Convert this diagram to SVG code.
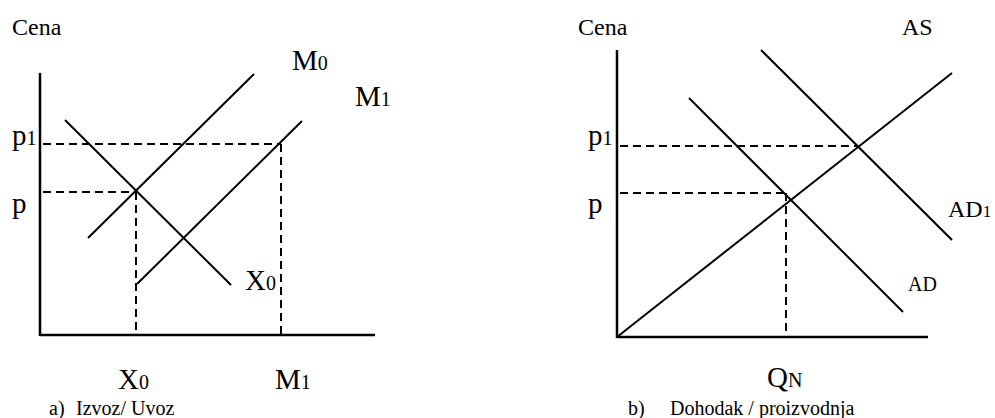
<svg xmlns="http://www.w3.org/2000/svg" width="995" height="418" viewBox="0 0 995 418">
<style>
text{font-family:"Liberation Serif","Times New Roman",serif;fill:#000}
.big{font-size:29px}
.sub{font-size:20px}
.mid{font-size:24px}
.msub{font-size:17px}
.cena{font-size:24px}
.cap{font-size:20px}
.ax{stroke:#000;stroke-width:2.5;fill:none}
.ln{stroke:#000;stroke-width:2;fill:none}
.ds{stroke:#000;stroke-width:2;fill:none;stroke-dasharray:8 5}
</style>
<rect width="995" height="418" fill="#fff"/>
<g id="chart-a">
  <g id="connectors-a">
    <line class="ax" x1="40" y1="73" x2="40" y2="336"/>
    <line class="ax" x1="40" y1="335" x2="375" y2="335"/>
    <line class="ln" x1="88" y1="238" x2="254" y2="74"/>
    <line class="ln" x1="137" y1="284" x2="302" y2="121"/>
    <line class="ln" x1="65" y1="120" x2="231" y2="285"/>
    <line class="ds" x1="43" y1="144" x2="281" y2="144"/>
    <line class="ds" x1="43" y1="192" x2="136" y2="192"/>
    <line class="ds" x1="136" y1="192" x2="136" y2="335"/>
    <line class="ds" x1="281" y1="144" x2="281" y2="335"/>
  </g>
  <g id="labels-a">
    <text class="cena" x="12" y="35">Cena</text>
    <text class="big" x="292" y="70">M<tspan class="sub">0</tspan></text>
    <text class="big" x="355" y="106">M<tspan class="sub">1</tspan></text>
    <text class="big" x="12" y="145">p<tspan class="sub">1</tspan></text>
    <text class="big" x="12" y="213">p</text>
    <text class="big" x="245" y="290">X<tspan class="sub">0</tspan></text>
    <text class="big" x="118" y="389">X<tspan class="sub">0</tspan></text>
    <text class="big" x="275" y="389">M<tspan class="sub">1</tspan></text>
    <text class="cap" x="49" y="415">a)</text>
    <text class="cap" x="76" y="415">Izvoz/ Uvoz</text>
  </g>
</g>
<g id="chart-b">
  <g id="connectors-b">
    <line class="ax" x1="617" y1="50" x2="617" y2="338"/>
    <line class="ax" x1="617" y1="337" x2="928" y2="337"/>
    <line class="ln" x1="617" y1="337" x2="952" y2="73"/>
    <line class="ln" x1="761" y1="50" x2="952" y2="240"/>
    <line class="ln" x1="689" y1="98" x2="903" y2="312"/>
    <line class="ds" x1="620" y1="146" x2="857" y2="146"/>
    <line class="ds" x1="620" y1="193" x2="786" y2="193"/>
    <line class="ds" x1="786" y1="193" x2="786" y2="337"/>
  </g>
  <g id="labels-b">
    <text class="cena" x="578" y="35">Cena</text>
    <text class="mid" x="902" y="35">AS</text>
    <text class="big" x="588" y="145">p<tspan class="sub">1</tspan></text>
    <text class="big" x="588" y="213">p</text>
    <text class="mid" x="948" y="217">AD<tspan class="msub">1</tspan></text>
    <text x="908" y="291" style="font-size:20px">AD</text>
    <text class="big" x="767" y="387">Q<tspan class="sub">N</tspan></text>
    <text class="cap" x="628" y="415">b)</text>
    <text class="cap" x="670" y="415">Dohodak / proizvodnja</text>
  </g>
</g>
</svg>
